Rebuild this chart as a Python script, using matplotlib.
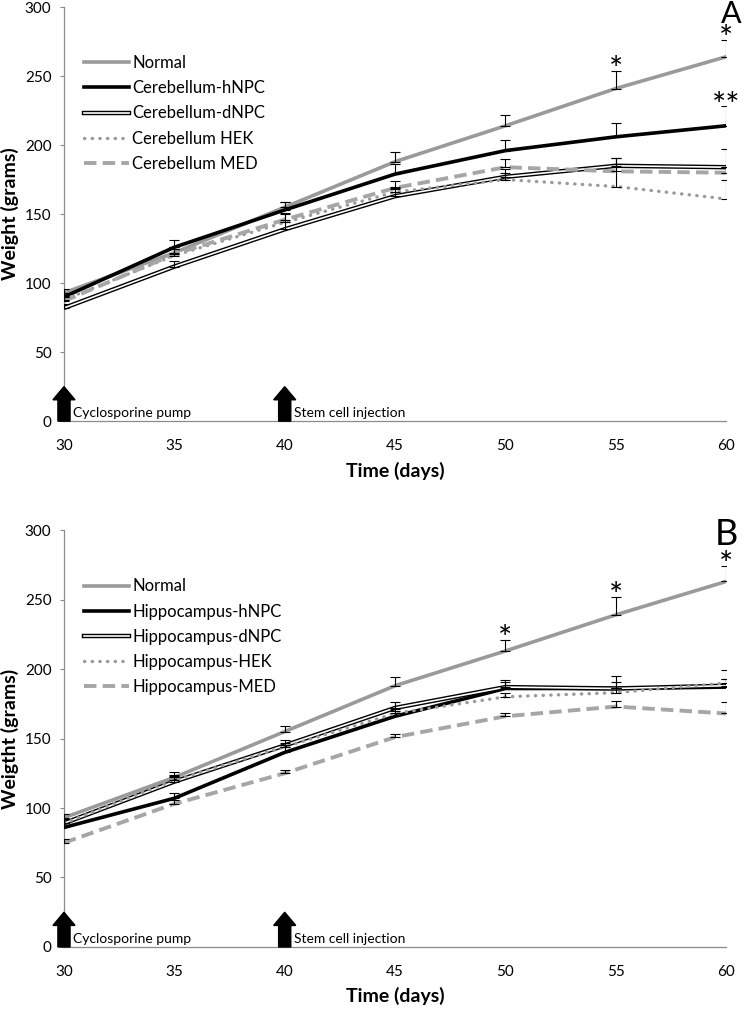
import matplotlib
matplotlib.use('Agg')
from matplotlib import pyplot as plt
from matplotlib.lines import Line2D
from matplotlib.legend_handler import HandlerTuple

plt.rcParams['font.family'] = ['Lato', 'DejaVu Sans']

days = [30, 35, 40, 45, 50, 55, 60]

# panel A - cerebellum
normal_a = [93, 122, 155, 188, 214, 241, 264]
normal_a_err = [3, 4, 4, 7, 8, 13, 12]
hnpc_a = [90, 126, 153, 179, 196, 206, 214]
hnpc_a_err = [3, 5, 6, 7, 8, 10, 14]
dnpc_a = [82, 112, 139, 163, 177, 185, 184]
dnpc_a_err = [3, 4, 5, 5, 6, 6, 13]
hek_a = [88, 120, 144, 166, 175, 170, 161]
hek_a_err = [3, 5, 6, 4, 5, 21, 14]
med_a = [87, 121, 146, 169, 184, 181, 180]
med_a_err = [3, 4, 5, 5, 6, 5, 4]
labels_a = ['Normal', 'Cerebellum-hNPC', 'Cerebellum-dNPC', 'Cerebellum HEK', 'Cerebellum MED']
stars_a = [(55, 'normal', '*'), (60, 'normal', '*'), (60, 'hnpc', '**')]

# panel B - hippocampus
normal_b = [93, 122, 155, 188, 213, 239, 263]
normal_b_err = [3, 4, 4, 6, 8, 13, 11]
hnpc_b = [86, 107, 140, 166, 186, 186, 187]
hnpc_b_err = [3, 4, 4, 4, 6, 9, 12]
dnpc_b = [89, 119, 145, 172, 187, 186, 188]
dnpc_b_err = [3, 4, 4, 4, 4, 5, 5]
hek_b = [89, 120, 144, 168, 180, 183, 190]
hek_b_err = [3, 4, 3, 3, 3, 3, 3]
med_b = [75, 103, 125, 151, 166, 173, 168]
med_b_err = [3, 3, 2, 2, 2, 4, 8]
labels_b = ['Normal', 'Hippocampus-hNPC', 'Hippocampus-dNPC', 'Hippocampus-HEK', 'Hippocampus-MED']
stars_b = [(50, 'normal', '*'), (55, 'normal', '*'), (60, 'normal', '*')]

events = [(30, 'Cyclosporine pump'), (40, 'Stem cell injection')]

GRAY = '#9a9a9a'
AXGRAY = '#8c8c8c'


def errbars(ax, y, err):
    ax.errorbar(days, y, yerr=[[0] * len(err), err], fmt='none', ecolor='black',
                elinewidth=0.8, capsize=3.5, capthick=0.8, zorder=6)


def draw_panel(ax, normal, normal_err, hnpc, hnpc_err, dnpc, dnpc_err,
               hek, hek_err, med, med_err, labels, stars, ylabel):
    ax.plot(days, normal, color=GRAY, lw=2.6, zorder=3)
    ax.plot(days, hnpc, color='black', lw=2.6, zorder=3)
    ax.plot(days, dnpc, color='black', lw=3.2, zorder=3, solid_capstyle='butt')
    ax.plot(days, dnpc, color='white', lw=1.2, zorder=3)
    ax.plot(days, hek, color=GRAY, lw=2.4, ls=(0, (0.1, 2.2)), dash_capstyle='round', zorder=4)
    ax.plot(days, med, color='#a6a6a6', lw=2.8, ls=(0, (3.2, 1.6)), zorder=4)
    for y, e in [(normal, normal_err), (hnpc, hnpc_err), (dnpc, dnpc_err),
                 (hek, hek_err), (med, med_err)]:
        errbars(ax, y, e)

    series = {'normal': (normal, normal_err), 'hnpc': (hnpc, hnpc_err)}
    for d, key, s in stars:
        y, e = series[key]
        i = days.index(d)
        ax.annotate(s, (d, y[i] + e[i]), xytext=(0, -11), textcoords='offset points',
                    ha='center', va='bottom', fontsize=24, annotation_clip=False)

    for d, txt in events:
        ax.arrow(d, 0, 0, 25, width=0.55, head_width=1.0, head_length=9.5,
                 length_includes_head=True, color='black', clip_on=False, zorder=7)
        ax.text(d + 0.42, 6, txt, fontsize=10, va='center', ha='left')

    h_normal = Line2D([], [], color=GRAY, lw=2.6)
    h_hnpc = Line2D([], [], color='black', lw=2.6)
    h_dnpc = (Line2D([], [], color='black', lw=3.2), Line2D([], [], color='white', lw=1.2))
    h_hek = Line2D([], [], color=GRAY, lw=2.4, ls=(0, (0.1, 2.2)), dash_capstyle='round')
    h_med = Line2D([], [], color='#a6a6a6', lw=2.8, ls=(0, (3.2, 1.6)))
    ax.legend([h_normal, h_hnpc, h_dnpc, h_hek, h_med], labels,
              handler_map={tuple: HandlerTuple(ndivide=1)},
              loc='upper left', bbox_to_anchor=(0.02, 0.9), frameon=False,
              fontsize=12, handlelength=2.7, handletextpad=0.2, labelspacing=0.55,
              borderaxespad=0)

    ax.set_xlim(30, 60)
    ax.set_ylim(0, 300)
    ax.set_xticks(days)
    ax.set_yticks(range(0, 301, 50))
    for sp in ['top', 'right']:
        ax.spines[sp].set_visible(False)
    for sp in ['left', 'bottom']:
        ax.spines[sp].set_color(AXGRAY)
        ax.spines[sp].set_linewidth(0.9)
    ax.tick_params(axis='x', length=0, pad=13, labelsize=11)
    ax.tick_params(axis='y', length=3, color=AXGRAY, pad=6, labelsize=11)
    ax.set_xlabel('Time (days)', fontsize=14, fontweight='bold', labelpad=6)
    ax.set_ylabel(ylabel, fontsize=14, fontweight='bold', labelpad=4)


fig = plt.figure(figsize=(7.44, 10.10), dpi=100)
ax_a = fig.add_axes([0.086, 0.583, 0.890, 0.410])
ax_b = fig.add_axes([0.086, 0.0624, 0.890, 0.4128])

draw_panel(ax_a, normal_a, normal_a_err, hnpc_a, hnpc_a_err, dnpc_a, dnpc_a_err,
           hek_a, hek_a_err, med_a, med_a_err, labels_a, stars_a, 'Weight (grams)')
draw_panel(ax_b, normal_b, normal_b_err, hnpc_b, hnpc_b_err, dnpc_b, dnpc_b_err,
           hek_b, hek_b_err, med_b, med_b_err, labels_b, stars_b, 'Weigtht (grams)')

fig.text(0.983, 1.0, 'A', fontsize=22, ha='center', va='top')
fig.text(0.976, 0.487, 'B', fontsize=26, ha='center', va='top')

plt.savefig('out.png', dpi=100)
